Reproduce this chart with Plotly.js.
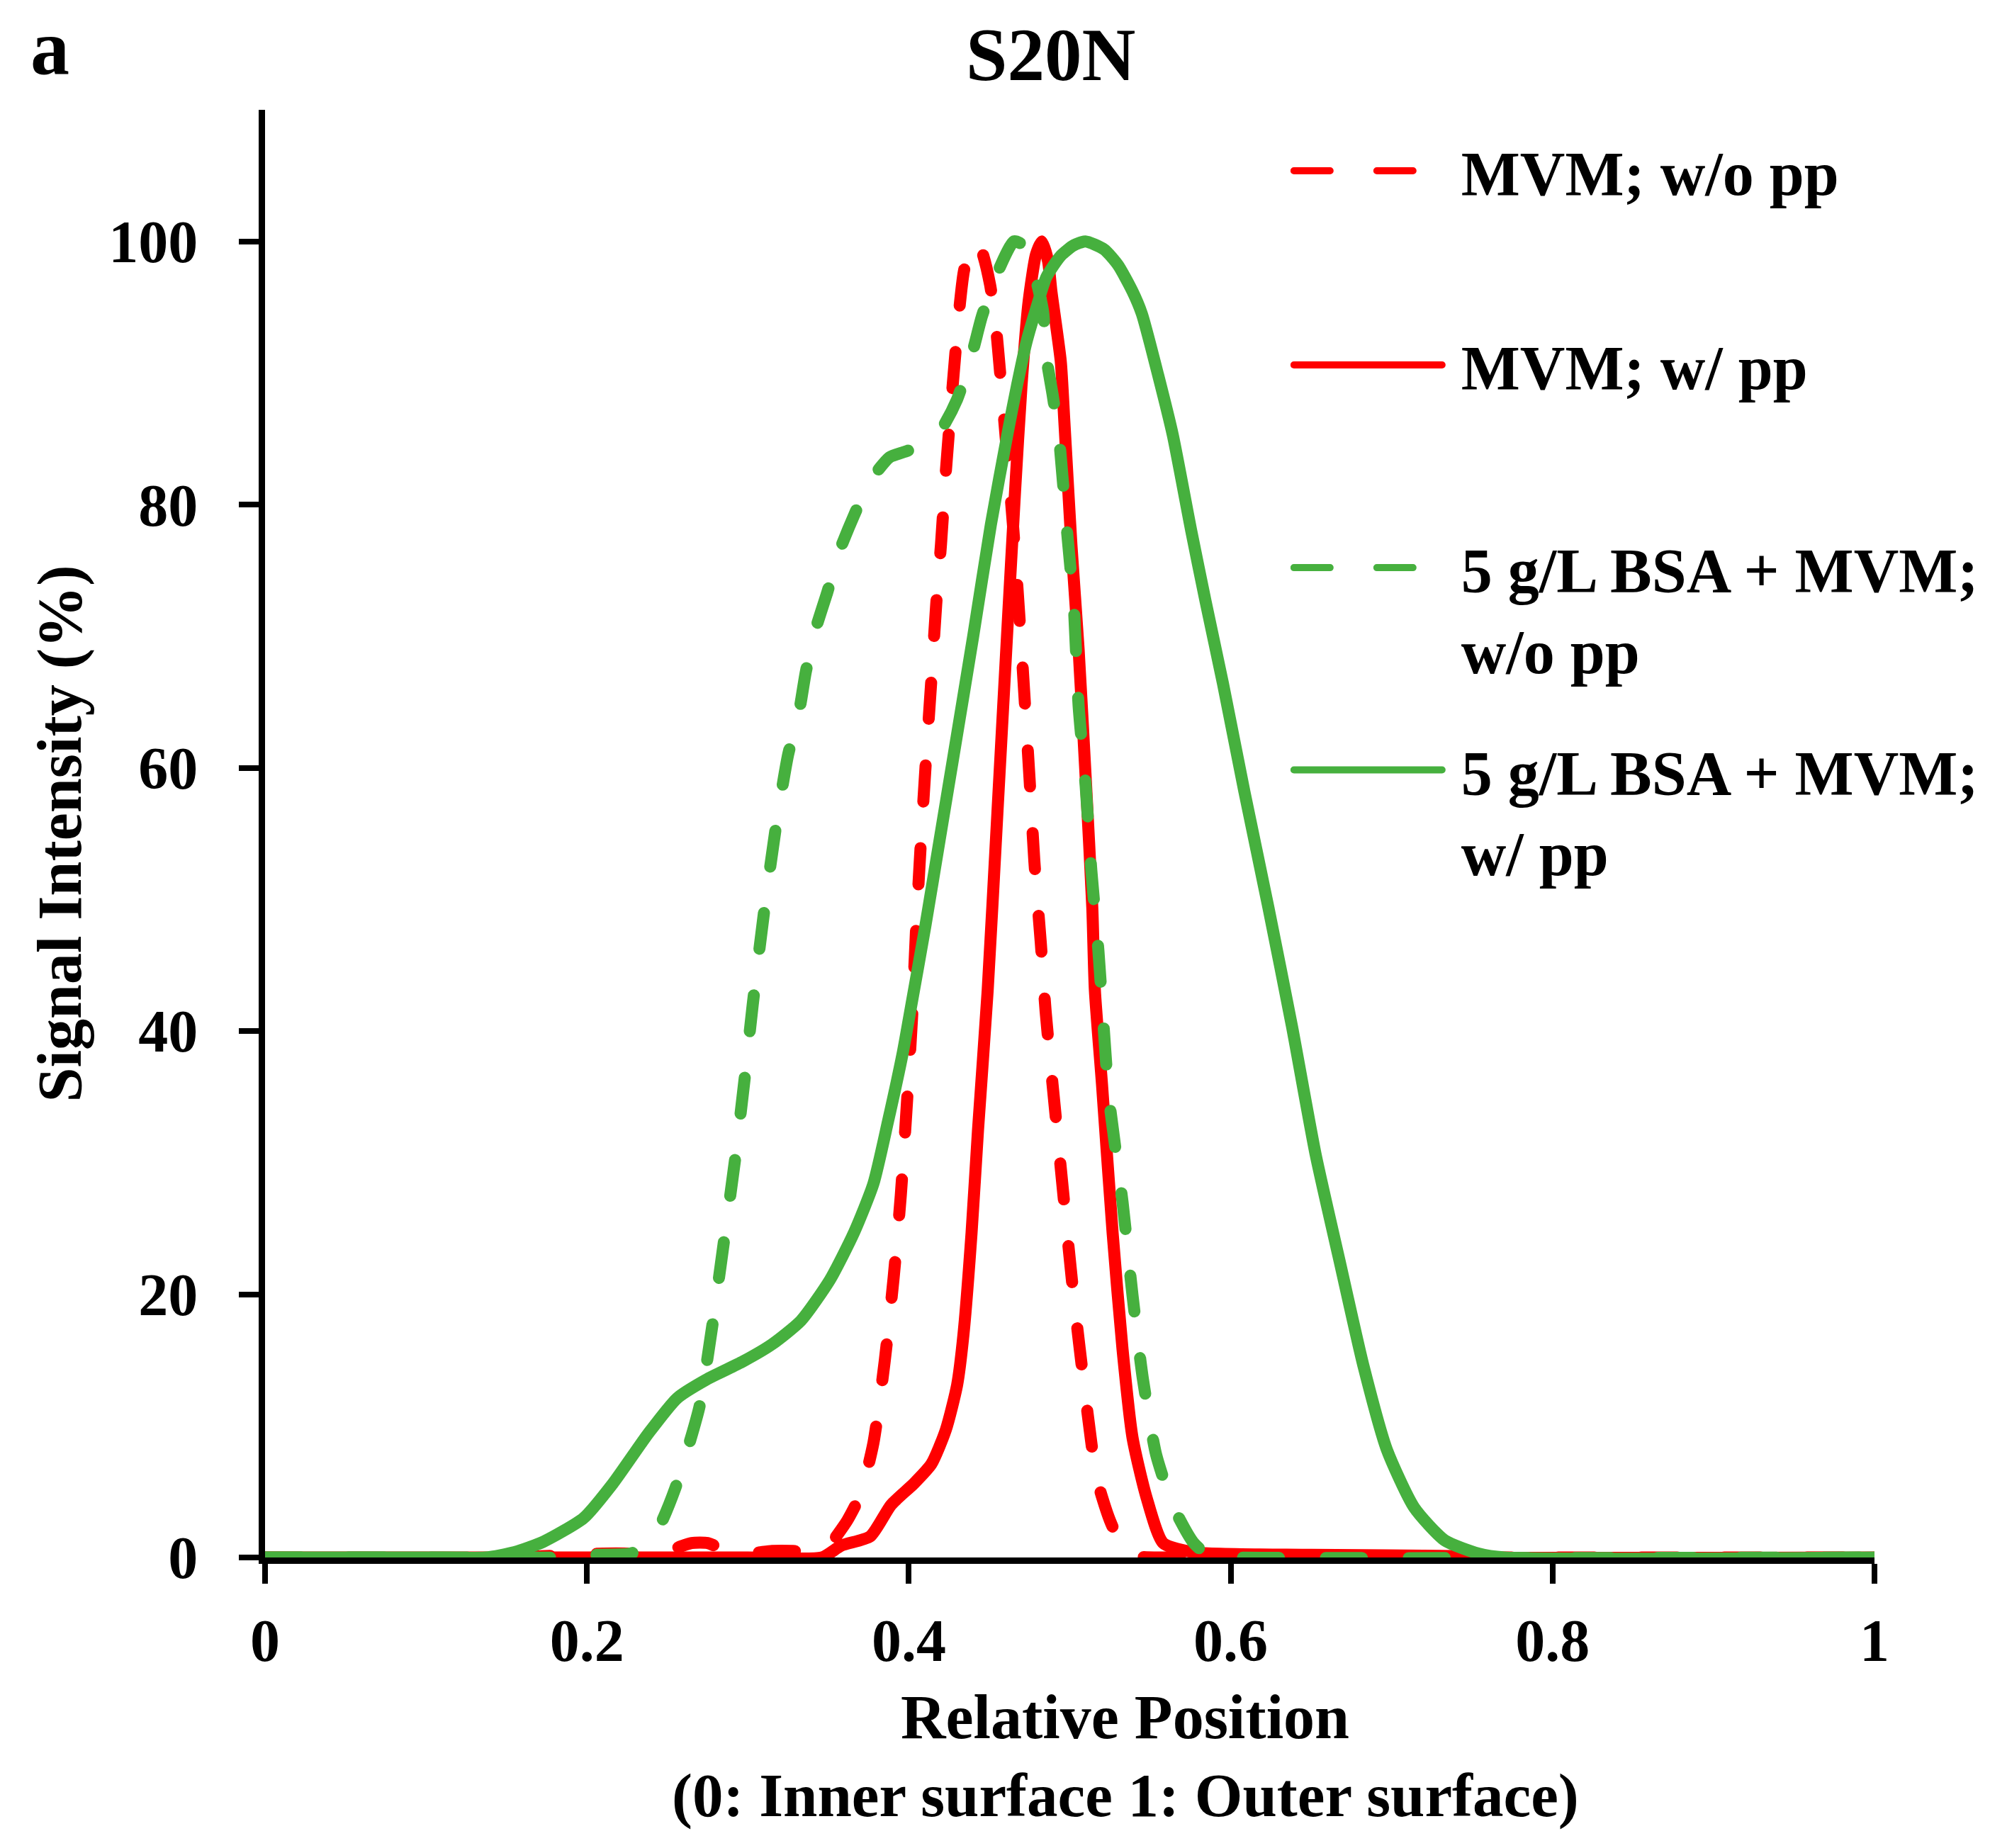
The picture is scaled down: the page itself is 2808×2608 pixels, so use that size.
<!DOCTYPE html>
<html>
<head>
<meta charset="utf-8">
<script src="https://cdn.plot.ly/plotly-3.0.1.min.js"></script>
<style>
  html, body { margin: 0; padding: 0; background: #fff; }
  #chart { width: 2808px; height: 2608px; }
  .js-line { stroke-linecap: round; stroke-linejoin: round; }
  .cartesianlayer .plot, .scatterlayer .trace, .scatterlayer .lines, .scatterlayer .js-line { clip-path: none !important; }
</style>
</head>
<body>
<div id="chart"></div>
<script>
// series names (a leading space keeps the text off the legend line)
var names = ['\u00a0MVM; w/o pp', '\u00a0MVM; w/ pp', '\u00a05 g/L BSA + MVM;<br>\u00a0w/o pp', '\u00a05 g/L BSA + MVM;<br>\u00a0w/ pp'];

// MVM; w/o pp (red dashed)
var xMvmWo = [0, 0.15, 0.19, 0.21, 0.225, 0.24, 0.255, 0.265, 0.275, 0.285, 0.30, 0.315, 0.328, 0.34, 0.35, 0.3555, 0.3617, 0.370, 0.378, 0.385, 0.3906, 0.395, 0.3985, 0.402, 0.4046, 0.4075, 0.4107, 0.414, 0.417, 0.420, 0.423, 0.427, 0.4315, 0.4345, 0.441, 0.4455, 0.4505, 0.4542, 0.4564, 0.465, 0.4695, 0.475, 0.478, 0.482, 0.485, 0.4936, 0.502, 0.5107, 0.5168, 0.525, 0.533, 0.542, 0.56, 0.75, 1];
var yMvmWo = [0, 0, 0.2, 0.3, 0.3, 0.2, 0.7, 1.1, 1.1, 0.6, 0.3, 0.5, 0.5, 0.4, 0.8, 1.7, 2.8, 4.8, 8.7, 14.9, 21.3, 27.5, 33.9, 41, 48, 54.4, 60.7, 66.7, 72.4, 77, 82.5, 88.7, 95, 97.9, 100, 99.2, 96.7, 93.4, 90.5, 78, 70, 59.2, 52.9, 46.7, 41.5, 30.6, 20.3, 11.3, 6.0, 2.8, 0.8, 0.1, 0, 0, 0];

// MVM; w/ pp (red solid)
var xMvmW = [0, 0.15, 0.30, 0.346, 0.358, 0.376, 0.389, 0.403, 0.414, 0.423, 0.430, 0.434, 0.439, 0.443, 0.449, 0.455, 0.461, 0.466, 0.470, 0.4745, 0.479, 0.4827, 0.4865, 0.4886, 0.4944, 0.4966, 0.501, 0.5055, 0.510, 0.514, 0.5156, 0.520, 0.5266, 0.5328, 0.539, 0.5476, 0.558, 0.577, 0.65, 0.746, 0.76, 1];
var yMvmW = [0, 0, 0, 0, 0.9, 1.6, 4.0, 5.6, 7.1, 9.7, 13.1, 17.0, 24.7, 32.5, 43.1, 56.5, 70, 81, 89, 95.5, 99, 100, 98.5, 96.2, 90.9, 86.4, 77, 69, 59, 49.4, 43.1, 36, 24.7, 15.8, 9.1, 4.6, 1.1, 0.4, 0.2, 0.1, 0, 0];

// 5 g/L BSA + MVM; w/o pp (green dashed)
var xBsaWo = [0, 0.15, 0.18, 0.205, 0.227, 0.236, 0.246, 0.255, 0.262, 0.270, 0.278, 0.285, 0.292, 0.298, 0.303, 0.310, 0.318, 0.325, 0.332, 0.336, 0.342, 0.349, 0.357, 0.366, 0.376, 0.388, 0.397, 0.408, 0.420, 0.430, 0.4396, 0.4454, 0.455, 0.4652, 0.470, 0.4783, 0.4834, 0.4856, 0.4893, 0.4936, 0.498, 0.5026, 0.5055, 0.5099, 0.5134, 0.5178, 0.5243, 0.5328, 0.539, 0.5454, 0.5537, 0.5646, 0.577, 0.587, 0.6, 1];
var yBsaWo = [0, 0, 0, 0.2, 0.3, 0.8, 2.6, 5.3, 8, 11.5, 17.7, 23.9, 30.2, 36.4, 42, 49, 56, 61, 64.4, 67.3, 70.5, 73.2, 76.5, 79.2, 81.8, 83.6, 84, 84.5, 85.7, 88, 91.6, 94.3, 97.6, 100, 99.8, 97.4, 94.7, 91.1, 88.4, 84.7, 78.4, 72.1, 64.7, 58.6, 52.2, 46.1, 35, 27, 19.9, 13.6, 7.8, 3.8, 1.1, 0.1, 0, 0];

// 5 g/L BSA + MVM; w/ pp (green solid)
var xBsaW = [0, 0.10, 0.137, 0.155, 0.173, 0.198, 0.216, 0.238, 0.256, 0.274, 0.297, 0.315, 0.333, 0.351, 0.366, 0.378, 0.387, 0.396, 0.4016, 0.4103, 0.4191, 0.4279, 0.440, 0.451, 0.4615, 0.4673, 0.473, 0.4789, 0.4855, 0.4943, 0.5024, 0.5097, 0.5213, 0.530, 0.539, 0.5448, 0.555, 0.564, 0.5755, 0.5843, 0.5952, 0.6085, 0.6234, 0.638, 0.6528, 0.6677, 0.6826, 0.697, 0.714, 0.733, 0.754, 0.77, 1];
var yBsaW = [0, 0, 0, 0.4, 1.2, 3.0, 5.6, 9.4, 12.1, 13.5, 14.9, 16.2, 18.0, 21.1, 24.7, 28.4, 33.1, 38.2, 42, 48, 54.5, 61, 70, 78.5, 85.5, 89.1, 92.3, 94.8, 97.3, 98.9, 99.7, 100, 99.4, 98.2, 96.2, 94.5, 89.8, 85.3, 78, 72.7, 66.4, 58.2, 49.4, 40.4, 30.6, 22.5, 14.5, 8.2, 3.8, 1.3, 0.3, 0, 0];

var xTicks = [0, 0.2, 0.4, 0.6, 0.8, 1];
var xTickText = ['0', '0.2', '0.4', '0.6', '0.8', '1'];
var yTicks = [0, 20, 40, 60, 80, 100];

var red = '#FF0000';
var green = '#46B03E';
var dash = '51px,66px';
var lw = 17;

var data = [
  {x: xMvmWo, y: yMvmWo, name: names[0], mode: 'lines', legend: 'legend',
   line: {color: red, width: lw, dash: dash, shape: 'spline', smoothing: 0.6}},
  {x: xMvmW, y: yMvmW, name: names[1], mode: 'lines', legend: 'legend2',
   line: {color: red, width: lw, shape: 'spline', smoothing: 0.6}},
  {x: xBsaWo, y: yBsaWo, name: names[2], mode: 'lines', legend: 'legend3',
   line: {color: green, width: lw, dash: dash, shape: 'spline', smoothing: 0.6}},
  {x: xBsaW, y: yBsaW, name: names[3], mode: 'lines', legend: 'legend4',
   line: {color: green, width: lw, shape: 'spline', smoothing: 0.6}}
];

var family = 'Liberation Serif, Times New Roman, serif';
var fnt = {family: family, size: 84, color: '#000', weight: 'bold'};
var legFnt = {family: family, size: 88, color: '#000', weight: 'bold'};

function leg(y) {
  return {x: 0.6368, y: y, xanchor: 'left', yanchor: 'middle', valign: 'top',
          itemwidth: 209, bgcolor: 'rgba(0,0,0,0)', font: legFnt};
}

var layout = {
  width: 2808,
  height: 2608,
  margin: {l: 374, r: 162, t: 155, b: 410},
  paper_bgcolor: '#fff',
  plot_bgcolor: '#fff',
  font: fnt,
  showlegend: true,
  title: {text: 'S20N', font: {family: family, size: 105, color: '#000', weight: 'bold'},
          xref: 'container', x: 0.528, xanchor: 'center', yref: 'container', y: 0.9707, yanchor: 'middle'},
  xaxis: {
    range: [0, 1], tickvals: xTicks, ticktext: xTickText,
    showline: true, linecolor: '#000', linewidth: 9, layer: 'below traces',
    ticks: 'outside', ticklen: 28, tickwidth: 8, tickcolor: '#000',
    showgrid: false, zeroline: false, ticklabelstandoff: 8
  },
  yaxis: {
    range: [0, 110], tickvals: yTicks,
    showline: true, linecolor: '#000', linewidth: 9, layer: 'below traces',
    ticks: 'outside', ticklen: 28, tickwidth: 8, tickcolor: '#000',
    showgrid: false, zeroline: false, ticklabelstandoff: 41,
    title: {text: 'Signal Intensity (%)', font: {family: family, size: 88, color: '#000', weight: 'bold'}, standoff: 13}
  },
  legend: leg(0.9578),
  legend2: leg(0.8236),
  legend3: leg(0.6557),
  legend4: leg(0.516),
  annotations: [
    {text: 'a', xref: 'paper', yref: 'paper', x: -0.1466, y: 1.043, xanchor: 'left', yanchor: 'middle',
     showarrow: false, font: {family: family, size: 110, color: '#000', weight: 'bold'}},
    {text: 'Relative Position', xref: 'paper', yref: 'paper', x: 0.5344, y: -0.1104,
     xanchor: 'center', yanchor: 'middle', showarrow: false, font: {family: family, size: 88, color: '#000', weight: 'bold'}},
    {text: '(0: Inner surface 1: Outer surface)', xref: 'paper', yref: 'paper', x: 0.5344, y: -0.1641,
     xanchor: 'center', yanchor: 'middle', showarrow: false, font: {family: family, size: 87, color: '#000', weight: 'bold'}}
  ]
};

Plotly.newPlot('chart', data, layout, {displayModeBar: false, displaylogo: false});
</script>
</body>
</html>
